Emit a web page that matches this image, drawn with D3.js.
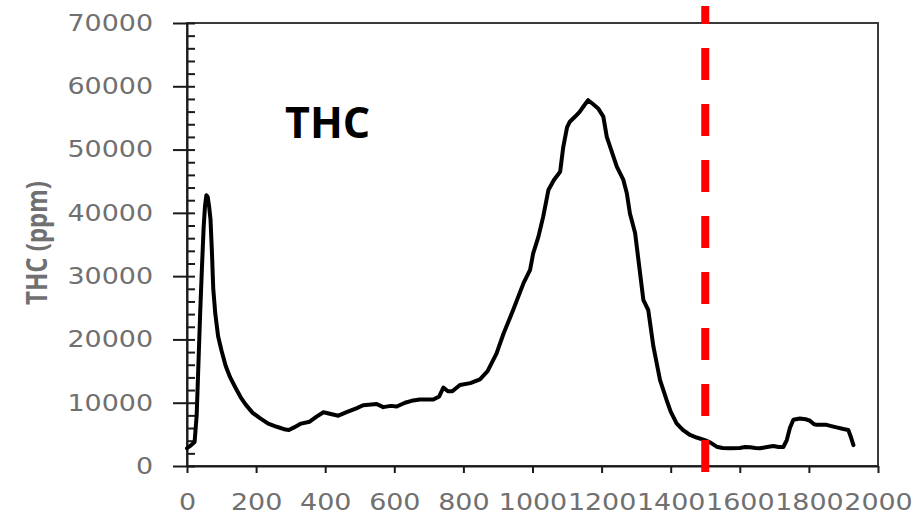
<!DOCTYPE html>
<html><head><meta charset="utf-8">
<script src="https://cdn.jsdelivr.net/npm/d3@7"></script>
<style>body{margin:0;background:#fff}svg{display:block}</style>
</head><body>
<svg id="c" width="914" height="520"></svg>
<script>
// ---- data ----
const xTickValues = [0,200,400,600,800,1000,1200,1400,1600,1800,2000];
const yTickValues = [0,10000,20000,30000,40000,50000,60000,70000];
const yMinorTickValues = [2000,4000,6000,8000,12000,14000,16000,18000,22000,24000,26000,28000,32000,34000,36000,38000,42000,44000,46000,48000,52000,54000,56000,58000,62000,64000,66000,68000];
const timeS = [0,12,22,28,33,38,43,48,52,56,60,64,68,72,76,82,90,100,112,125,140,155,170,190,210,235,260,285,295,310,330,355,375,395,410,438,462,490,510,549,568,590,607,631,650,674,713,730,742,755,768,790,820,848,870,896,916,944,974,993,1002,1017,1031,1046,1062,1080,1089,1100,1108,1125,1137,1150,1161,1175,1190,1205,1215,1244,1263,1273,1282,1297,1321,1335,1350,1369,1388,1400,1417,1435,1456,1475,1499,1515,1533,1550,1572,1600,1615,1630,1645,1658,1675,1697,1712,1726,1736,1745,1755,1774,1790,1803,1815,1823,1851,1865,1880,1900,1914,1922,1929];
const thcPpm = [2800,3300,3800,8000,16000,24000,31000,37500,41000,42800,42500,41000,39000,34000,28000,24000,20500,18200,15800,14000,12400,10900,9700,8400,7600,6700,6200,5750,5700,6100,6700,7000,7800,8500,8300,7950,8500,9100,9600,9800,9300,9500,9400,10000,10300,10500,10500,11000,12400,11800,11800,12800,13100,13700,15000,17800,20900,24650,28900,31000,33600,36200,39400,43600,45200,46500,50400,53500,54400,55300,56000,57000,57800,57200,56500,55200,52000,47300,45200,43100,39900,36800,26200,24650,18850,13600,10430,8600,6750,5700,4900,4500,4100,3700,3050,2850,2800,2850,3000,2950,2850,2800,2950,3150,3000,3000,4100,6000,7300,7500,7400,7150,6600,6500,6500,6300,6100,5850,5700,4500,3300];
const markerTime = 1500;
const markerSpan = [-950, 72700];
const chartTitle = "THC";
const yAxisTitle = "THC (ppm)";

// ---- layout ----
const svg = d3.select('#c');
const x = d3.scaleLinear().domain([0,2000]).range([187,878]);
const y = d3.scaleLinear().domain([0,70000]).range([466,23]);
const SX = 1.17;
const labelColor = '#707070';

// frame
svg.append('rect').attr('x',x(0)).attr('y',y(70000)).attr('width',x(2000)-x(0)).attr('height',y(0)-y(70000))
  .attr('fill','none').attr('stroke','#3a3a3a').attr('stroke-width',2);

// minor y ticks (inside)
const gMinor = svg.append('g').attr('transform',`translate(${x(0)},0)`)
  .call(d3.axisLeft(y).tickValues(yMinorTickValues).tickSize(-8).tickFormat(''));
gMinor.select('.domain').remove();
gMinor.selectAll('.tick line').attr('stroke','#1a1a1a').attr('stroke-width',2);

// major y axis
const gy = svg.append('g').attr('transform',`translate(${x(0)},0)`)
  .call(d3.axisLeft(y).tickValues(yTickValues).tickSizeInner(14).tickSizeOuter(0).tickFormat(d=>String(d)));
gy.select('.domain').attr('stroke','#1a1a1a').attr('stroke-width',2);
gy.selectAll('.tick line').attr('x1',8).attr('stroke','#1a1a1a').attr('stroke-width',2);
gy.selectAll('.tick text').attr('font-family','DejaVu Sans').attr('font-size',23).attr('fill',labelColor)
  .attr('x',-34/SX).attr('transform',`scale(${SX},1)`);

// x axis
const gx = svg.append('g').attr('transform',`translate(0,${y(0)})`)
  .call(d3.axisBottom(x).tickValues(xTickValues).tickSizeInner(7).tickSizeOuter(0).tickPadding(21).tickFormat(d=>String(d)));
gx.select('.domain').attr('stroke','#1a1a1a').attr('stroke-width',2);
gx.selectAll('.tick line').attr('stroke','#1a1a1a').attr('stroke-width',2);
gx.selectAll('.tick text').attr('font-family','DejaVu Sans').attr('font-size',23).attr('fill',labelColor)
  .attr('transform',`scale(${SX},1)`);

// data line
const pts = timeS.map((t,i)=>[t,thcPpm[i]]);
svg.append('path').datum(pts)
  .attr('d', d3.line().x(d=>x(d[0])).y(d=>y(d[1])).curve(d3.curveLinear))
  .attr('fill','none').attr('stroke','#000').attr('stroke-width',4)
  .attr('stroke-linejoin','round').attr('stroke-linecap','round');

// red dashed marker
svg.append('line')
  .attr('x1',x(markerTime)).attr('x2',x(markerTime))
  .attr('y1',y(markerSpan[0])).attr('y2',y(markerSpan[1]))
  .attr('stroke','#ff0000').attr('stroke-width',8).attr('stroke-dasharray','32 24');

// title
svg.append('text').attr('x',285).attr('y',138).text(chartTitle)
  .attr('font-family','Open Sans').attr('font-weight','bold').attr('font-size',43).attr('fill','#000');

// y axis title
svg.append('text').attr('transform',`translate(46.5,243) rotate(-90) scale(1,${SX})`)
  .attr('text-anchor','middle').text(yAxisTitle)
  .attr('font-family','Open Sans').attr('font-weight','bold').attr('font-size',24).attr('fill',labelColor);
</script>
</body></html>
